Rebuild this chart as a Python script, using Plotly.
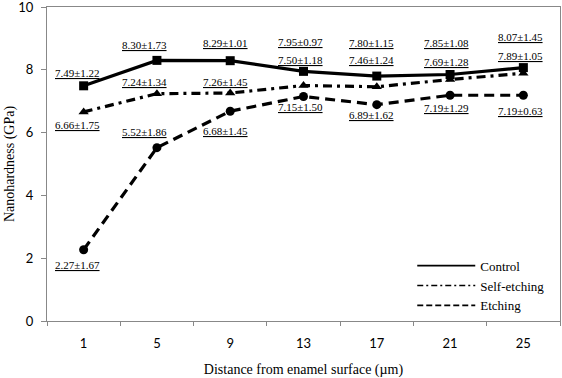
import plotly.graph_objects as go

# ---- data ----
distances = ["1", "5", "9", "13", "17", "21", "25"]
control_mean = [7.49, 8.30, 8.29, 7.95, 7.80, 7.85, 8.07]
control_sd = [1.22, 1.73, 1.01, 0.97, 1.15, 1.08, 1.45]
self_mean = [6.66, 7.24, 7.26, 7.50, 7.46, 7.69, 7.89]
self_sd = [1.75, 1.34, 1.45, 1.18, 1.24, 1.28, 1.05]
etch_mean = [2.27, 5.52, 6.68, 7.15, 6.89, 7.19, 7.19]
etch_sd = [1.67, 1.86, 1.45, 1.50, 1.62, 1.29, 0.63]
series_names = ["Control", "Self-etching", "Etching"]

# ---- label placement (pixel offsets from each point) ----
label_xshift = [-6, -12, -5, -3, -5, -4, -3]
control_yshift = [13, 15, 18, 29, 33, 32, 31]
self_yshift = [-13, 12, 11, 26, 27, 18, 17]
etch_yshift = [-15, 16, -20, -11, -10, -13, -16]

SERIF = "Liberation Serif, Times New Roman, serif"
SANS = "Lato, Open Sans, sans-serif"

fig = go.Figure()

styles = [
    dict(mean=control_mean, sd=control_sd, ys=control_yshift, dash="solid",
         symbol="square", msize=9, legdash="solid"),
    dict(mean=self_mean, sd=self_sd, ys=self_yshift, dash="9px,5px,3px,5px",
         symbol="triangle-up", msize=9, legdash="6px,3px,2px,3px"),
    dict(mean=etch_mean, sd=etch_sd, ys=etch_yshift, dash="10px,6px",
         symbol="circle", msize=9, legdash="6px,3px"),
]

for name, st in zip(series_names, styles):
    fig.add_trace(go.Scatter(
        x=distances, y=st["mean"], mode="lines+markers", showlegend=False,
        line=dict(color="black", width=3.2, dash=st["dash"]),
        marker=dict(symbol=st["symbol"], size=st["msize"], color="black"),
    ))
    # legend-only line sample
    fig.add_trace(go.Scatter(
        x=[None], y=[None], mode="lines", name=name,
        line=dict(color="black", width=1.6, dash=st["legdash"]),
    ))
    for i, (m, s) in enumerate(zip(st["mean"], st["sd"])):
        fig.add_annotation(
            x=i, y=m, xref="x", yref="y",
            text=f"<u>{m:.2f}±{s:.2f}</u>", showarrow=False,
            xshift=label_xshift[i], yshift=st["ys"][i],
            font=dict(family=SERIF, size=11, color="black"),
        )

fig.update_layout(
    width=562, height=378,
    margin=dict(l=47, r=2, t=7, b=57),
    paper_bgcolor="white", plot_bgcolor="white",
    showlegend=True,
    legend=dict(x=0.712, y=0.224, xanchor="left", yanchor="top",
                bgcolor="rgba(0,0,0,0)", itemwidth=58,
                font=dict(family=SERIF, size=13, color="black")),
    xaxis=dict(
        type="category", range=[-0.5, 6.5], tickson="boundaries",
        ticks="outside", ticklen=4, tickcolor="#888", automargin=False,
        ticklabelstandoff=10,
        showline=True, linecolor="#888", linewidth=1, mirror=True,
        showgrid=False, zeroline=False,
        tickfont=dict(family=SANS, size=13, color="black"),
        title=dict(text="Distance from enamel surface (µm)",
                   font=dict(family=SERIF, size=14, color="black"), standoff=14),
    ),
    yaxis=dict(
        range=[0, 10], dtick=2, ticks="outside", ticklen=5, tickcolor="#888",
        ticklabelstandoff=5, ticklabeloverflow="allow", automargin=False,
        showline=True, linecolor="#888", linewidth=1, mirror=True,
        showgrid=False, zeroline=False,
        tickfont=dict(family=SANS, size=13, color="black"),
        title=dict(text="Nanohardness (GPa)",
                   font=dict(family=SERIF, size=14, color="black"), standoff=0),
    ),
)

fig.write_html("out.html", config={"displayModeBar": False},
               post_script="document.body.style.margin='0';document.body.style.padding='0';")
